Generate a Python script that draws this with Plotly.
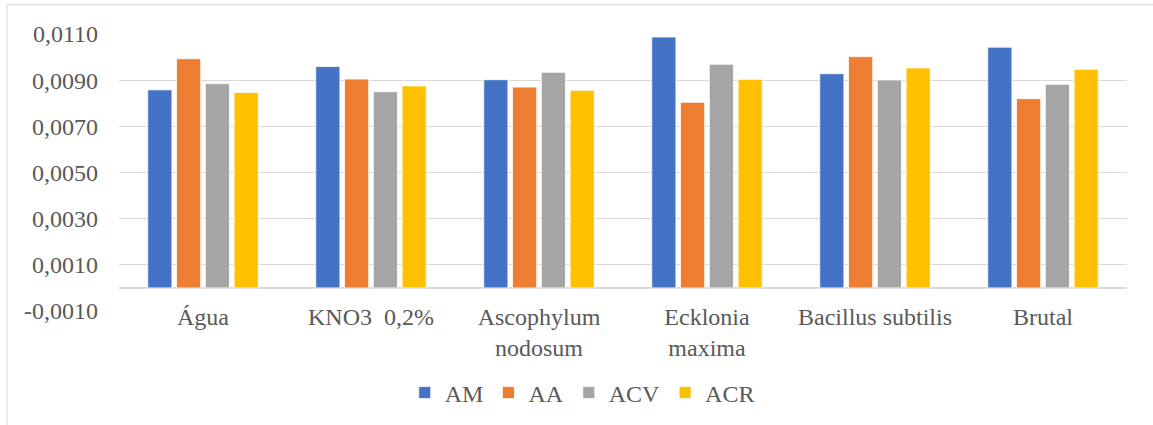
import plotly.graph_objects as go

categories = ["Água", "KNO3  0,2%", "Ascophylum<br>nodosum", "Ecklonia<br>maxima", "Bacillus subtilis", "Brutal"]
series_names = ["AM", "AA", "ACV", "ACR"]
am = [0.00858, 0.00959, 0.00902, 0.01087, 0.00928, 0.01043]
aa = [0.00993, 0.00905, 0.00870, 0.00804, 0.01002, 0.00820]
acv = [0.00885, 0.00850, 0.00934, 0.00969, 0.00901, 0.00882]
acr = [0.00847, 0.00875, 0.00856, 0.00904, 0.00953, 0.00947]
colors = ["#4472C4", "#ED7D31", "#A5A5A5", "#FFC000"]
ytick_vals = [-0.001, 0.001, 0.003, 0.005, 0.007, 0.009, 0.011]
ytick_text = ["-0,0010", "0,0010", "0,0030", "0,0050", "0,0070", "0,0090", "0,0110"]

font_family = "Liberation Serif"
text_color = "#595959"
grid_color = "#D9D9D9"

fig = go.Figure()
for name, vals, col in zip(series_names, [am, aa, acv, acr], colors):
    fig.add_trace(go.Bar(
        x=categories, y=vals, name=name,
        marker=dict(color=col, line=dict(color="white", width=0.8)),
    ))

fig.update_layout(
    width=1153, height=425,
    margin=dict(l=119, r=26, t=34, b=114),
    paper_bgcolor="white", plot_bgcolor="white",
    barmode="group", bargap=0.315, bargroupgap=0.16,
    font=dict(family=font_family, size=24, color=text_color),
    showlegend=True,
    legend=dict(orientation="h", xref="container", yref="container",
                x=0.505, xanchor="center", y=0.0753, yanchor="middle",
                font=dict(family=font_family, size=24, color=text_color),
                bgcolor="rgba(0,0,0,0)"),
    shapes=[dict(type="rect", xref="paper", yref="paper",
                 x0=-0.111, x1=1.2, y0=-0.5, y1=1.106,
                 line=dict(color=grid_color, width=1), fillcolor="rgba(0,0,0,0)", layer="below")],
)
fig.update_yaxes(
    range=[-0.001, 0.011], tickvals=ytick_vals, ticktext=ytick_text,
    showgrid=True, gridcolor=grid_color, gridwidth=1,
    zeroline=True, zerolinecolor=grid_color, zerolinewidth=1.5,
    showline=False, ticks="", ticklabelstandoff=20, automargin=False,
    tickfont=dict(family=font_family, size=24, color=text_color),
)
fig.update_xaxes(
    showgrid=False, showline=False, ticks="", ticklabelstandoff=-11, automargin=False,
    tickfont=dict(family=font_family, size=24, color=text_color),
)

fig.write_html("out.html", config={"displayModeBar": False},
               post_script="document.body.style.margin='0';document.body.style.overflow='hidden';")
